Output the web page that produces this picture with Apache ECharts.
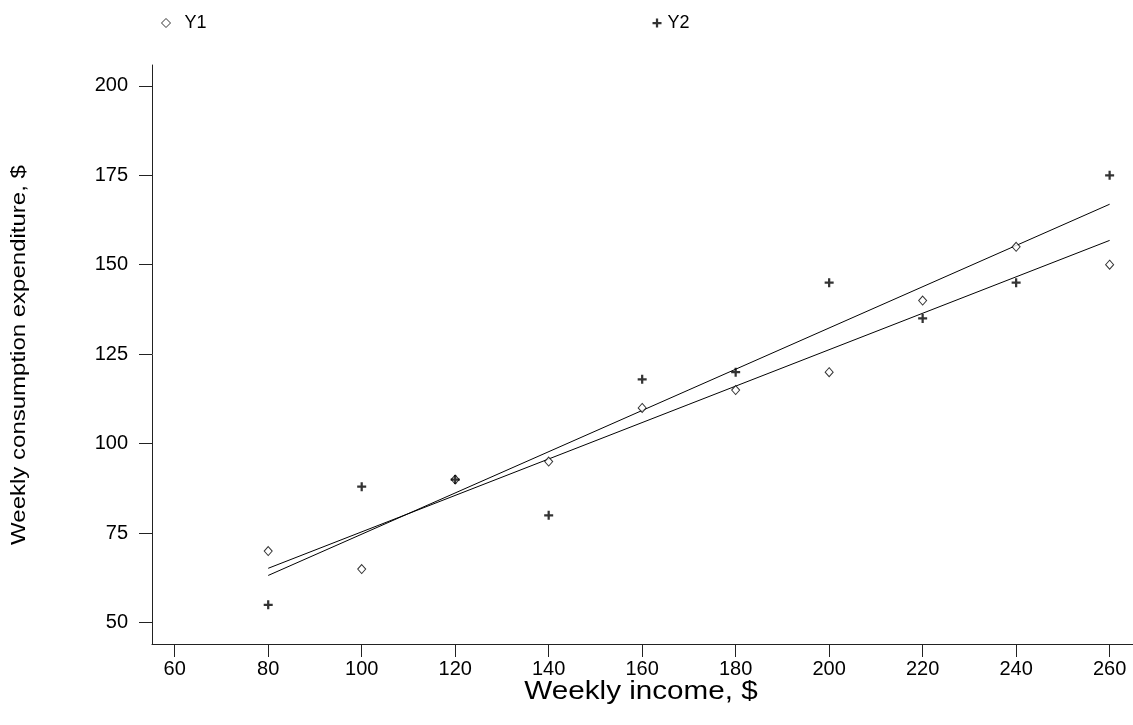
<!DOCTYPE html>
<html><head><meta charset="utf-8">
<script src="https://cdn.jsdelivr.net/npm/echarts@6/dist/echarts.min.js"></script>
<style>html,body{margin:0;padding:0;background:#fff}#c{width:1133px;height:725px}</style>
</head><body><div id="c"></div>
<script>
const income = [80, 100, 120, 140, 160, 180, 200, 220, 240, 260];
const y1 = [70, 65, 90, 95, 110, 115, 120, 140, 155, 150];
const y2 = [55, 88, 90, 80, 118, 120, 145, 135, 145, 175];
const fitY1 = [[80, 65.2], [260, 156.8]];
const fitY2 = [[80, 63.2], [260, 166.9]];
const xTicks = [60, 80, 100, 120, 140, 160, 180, 200, 220, 240, 260];
const yTicks = [50, 75, 100, 125, 150, 175, 200];
const xTitle = 'Weekly income, $';
const yTitle = 'Weekly consumption expenditure, $';

const FONT = 'Liberation Sans, Arial, sans-serif';
const plusPath = 'path://M-1,-4H1V-1H4V1H1V4H-1V1H-4V-1H-1Z';
const chart = echarts.init(document.getElementById('c'));
chart.setOption({
  animation: false,
  backgroundColor: '#fff',
  textStyle: {fontFamily: FONT},
  legend: {
    left: 156, top: 9, itemGap: 446, itemWidth: 9, itemHeight: 9,
    textStyle: {fontSize: 18, color: '#000', fontFamily: FONT},
    data: [
      {name: 'Y1', icon: 'diamond', itemStyle: {color: '#fff', borderColor: '#000', borderWidth: 1},
       textStyle: {padding: [0, 0, 0, 9]}},
      {name: 'Y2', icon: plusPath, itemStyle: {color: '#000'},
       textStyle: {padding: [0, 0, 0, 1]}}
    ]
  },
  grid: {left: 152, top: 65, right: 0, bottom: 81, containLabel: false},
  xAxis: {
    type: 'value', min: 55.14, max: 265,
    axisLine: {show: true, lineStyle: {color: '#222', width: 1}},
    axisTick: {show: true, length: 13, customValues: xTicks, lineStyle: {color: '#222'}},
    axisLabel: {customValues: xTicks, fontSize: 20, color: '#000', margin: 15, fontFamily: FONT},
    splitLine: {show: false}
  },
  yAxis: {
    type: 'value', min: 44.05, max: 205.8,
    axisLine: {show: true, lineStyle: {color: '#222', width: 1}},
    axisTick: {show: true, length: 13, customValues: yTicks, lineStyle: {color: '#222'}},
    axisLabel: {customValues: yTicks, fontSize: 20, color: '#000', margin: 24, fontFamily: FONT},
    splitLine: {show: false}
  },
  graphic: [
    {type: 'text', x: 641, y: 692, scaleX: 1.14,
     style: {text: xTitle, fontSize: 26, fontFamily: FONT, fill: '#000', align: 'center', verticalAlign: 'middle'}},
    {type: 'text', x: 19, y: 355, rotation: Math.PI / 2, scaleX: 1.2,
     style: {text: yTitle, fontSize: 20, fontFamily: FONT, fill: '#000', align: 'center', verticalAlign: 'middle'}}
  ],
  series: [
    {name: 'Y1', type: 'scatter', symbol: 'diamond', symbolSize: [8, 9],
     itemStyle: {color: '#fff', borderColor: '#000', borderWidth: 1},
     data: income.map((x, i) => [x, y1[i]]), z: 3},
    {name: 'Y2', type: 'scatter', symbol: plusPath, symbolSize: 9,
     itemStyle: {color: '#000'},
     data: income.map((x, i) => [x, y2[i]]), z: 4},
    {name: 'fit1', type: 'line', data: fitY1, symbol: 'none', silent: true,
     lineStyle: {color: '#000', width: 1}, z: 2},
    {name: 'fit2', type: 'line', data: fitY2, symbol: 'none', silent: true,
     lineStyle: {color: '#000', width: 1}, z: 2}
  ]
});
</script></body></html>
